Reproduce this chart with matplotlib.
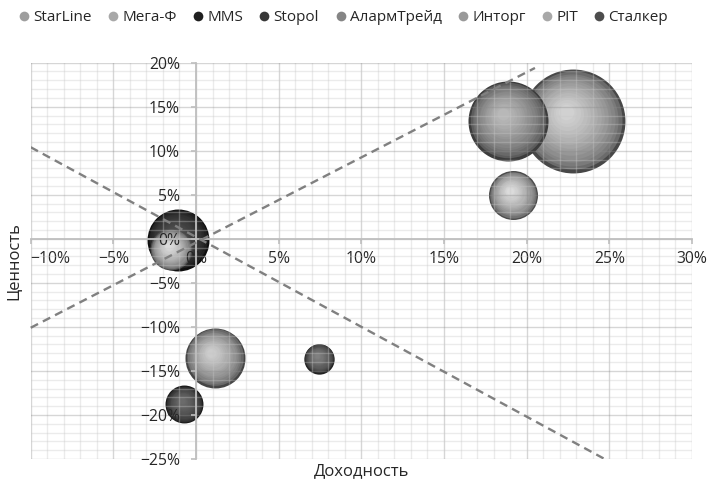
import numpy as np
import matplotlib
matplotlib.use("Agg")
import matplotlib.pyplot as plt
import matplotlib.transforms as mtransforms
from matplotlib.lines import Line2D
from matplotlib.ticker import MultipleLocator, FuncFormatter

plt.rcParams['font.family'] = ['Open Sans', 'DejaVu Sans']

# данные: доходность, ценность (%), объем (размер пузыря)
names = ['StarLine', 'Мега-Ф', 'MMS', 'Stopol', 'АлармТрейд', 'Инторг', 'PIT', 'Сталкер']
dohod = [22.8, -1.5, -1.1, -0.7, 18.9, 1.15, 19.2, 7.45]
cennost = [13.4, -1.2, -0.1, -18.8, 13.4, -13.5, 5.0, -13.6]
obem = [27.0, 4.4, 9.6, 3.6, 16.0, 9.0, 6.0, 2.3]
grays = [0.62, 0.66, 0.12, 0.22, 0.52, 0.60, 0.66, 0.30]
draw_order = [0, 4, 6, 2, 1, 5, 3, 7]

# линии тренда (пунктир)
line1_x = [-10.0, 20.5]
line1_y = [-10.1, 19.4]
line2_x = [-10.0, 25.3]
line2_y = [10.4, -25.6]

fig = plt.figure(figsize=(7.07, 4.84), dpi=100)
ax = fig.add_axes([0.0434, 0.0517, 0.9354, 0.8188])
ax.set_xlim(-10, 30)
ax.set_ylim(-25, 20)


def bubble(x, y, vol, g):
    r = np.sqrt(vol) * 10  # радиус в пикселях
    n = 16
    dark = g * 0.45
    light = min(0.9, g + 0.2)
    for k in range(n):
        t = k / (n - 1)
        rk = r * (1 - 0.85 * t)
        sh = 0.3 * r * t / 100
        off = mtransforms.ScaledTranslation(-0.45 * sh, 0.55 * sh, fig.dpi_scale_trans)
        lev = dark + (light - dark) * t ** 0.5
        ax.scatter([x], [y], s=(2 * rk * 0.72) ** 2, color=str(lev), lw=0,
                   transform=ax.transData + off, zorder=1)


for i in draw_order:
    bubble(dohod[i], cennost[i], obem[i], grays[i])

ax.plot(line1_x, line1_y, color='#808080', lw=1.7, ls=(0, (3.5, 2.3)), zorder=4, clip_on=False)
ax.plot(line2_x, line2_y, color='#808080', lw=1.7, ls=(0, (3.5, 2.3)), zorder=4)

ax.xaxis.set_major_locator(MultipleLocator(5))
ax.yaxis.set_major_locator(MultipleLocator(5))
ax.xaxis.set_minor_locator(MultipleLocator(1))
ax.yaxis.set_minor_locator(MultipleLocator(1))
fmt = FuncFormatter(lambda v, p: f"{v:.0f}%".replace('-', '\u2212'))
ax.xaxis.set_major_formatter(fmt)
ax.yaxis.set_major_formatter(fmt)

ax.set_axisbelow(False)
ax.grid(which='major', color='#8a8a8a', alpha=0.35, lw=1.0)
ax.grid(which='minor', color='#c8c8c8', alpha=0.35, lw=1.0)

for s in ['top', 'right']:
    ax.spines[s].set_visible(False)
ax.spines['left'].set_position(('data', 0))
ax.spines['bottom'].set_position(('data', 0))
for s in ['left', 'bottom']:
    ax.spines[s].set_color('#bfbfbf')
    ax.spines[s].set_linewidth(1.3)
    ax.spines[s].set_zorder(3)
ax.tick_params(which='major', direction='out', length=3.6, color='#bfbfbf', width=1.2,
               labelsize=11.3, labelcolor='#262626')
ax.tick_params(which='minor', length=0)
ax.tick_params(axis='y', pad=8)
ax.tick_params(axis='x', pad=5)
for lbl in ax.get_xticklabels():
    if lbl.get_text().startswith('\u221210'):
        lbl.set_ha('left')

ax.set_xlabel('Доходность', fontsize=12, color='#262626')
ax.set_ylabel('Ценность', fontsize=12, color='#262626')
ax.xaxis.set_label_coords(0.5, -0.01)
ax.yaxis.set_label_coords(-0.012, 0.5)

handles = [Line2D([], [], ls='', marker='o', markersize=7, color=str(grays[i]), mec='none')
           for i in range(len(names))]
fig.legend(handles, names, loc='center', bbox_to_anchor=(0.484, 0.963), ncol=8, frameon=False,
           fontsize=11, handletextpad=0.1, columnspacing=0.9, handlelength=1.0,
           labelcolor='#262626')

fig.savefig('out.png', dpi=100)
